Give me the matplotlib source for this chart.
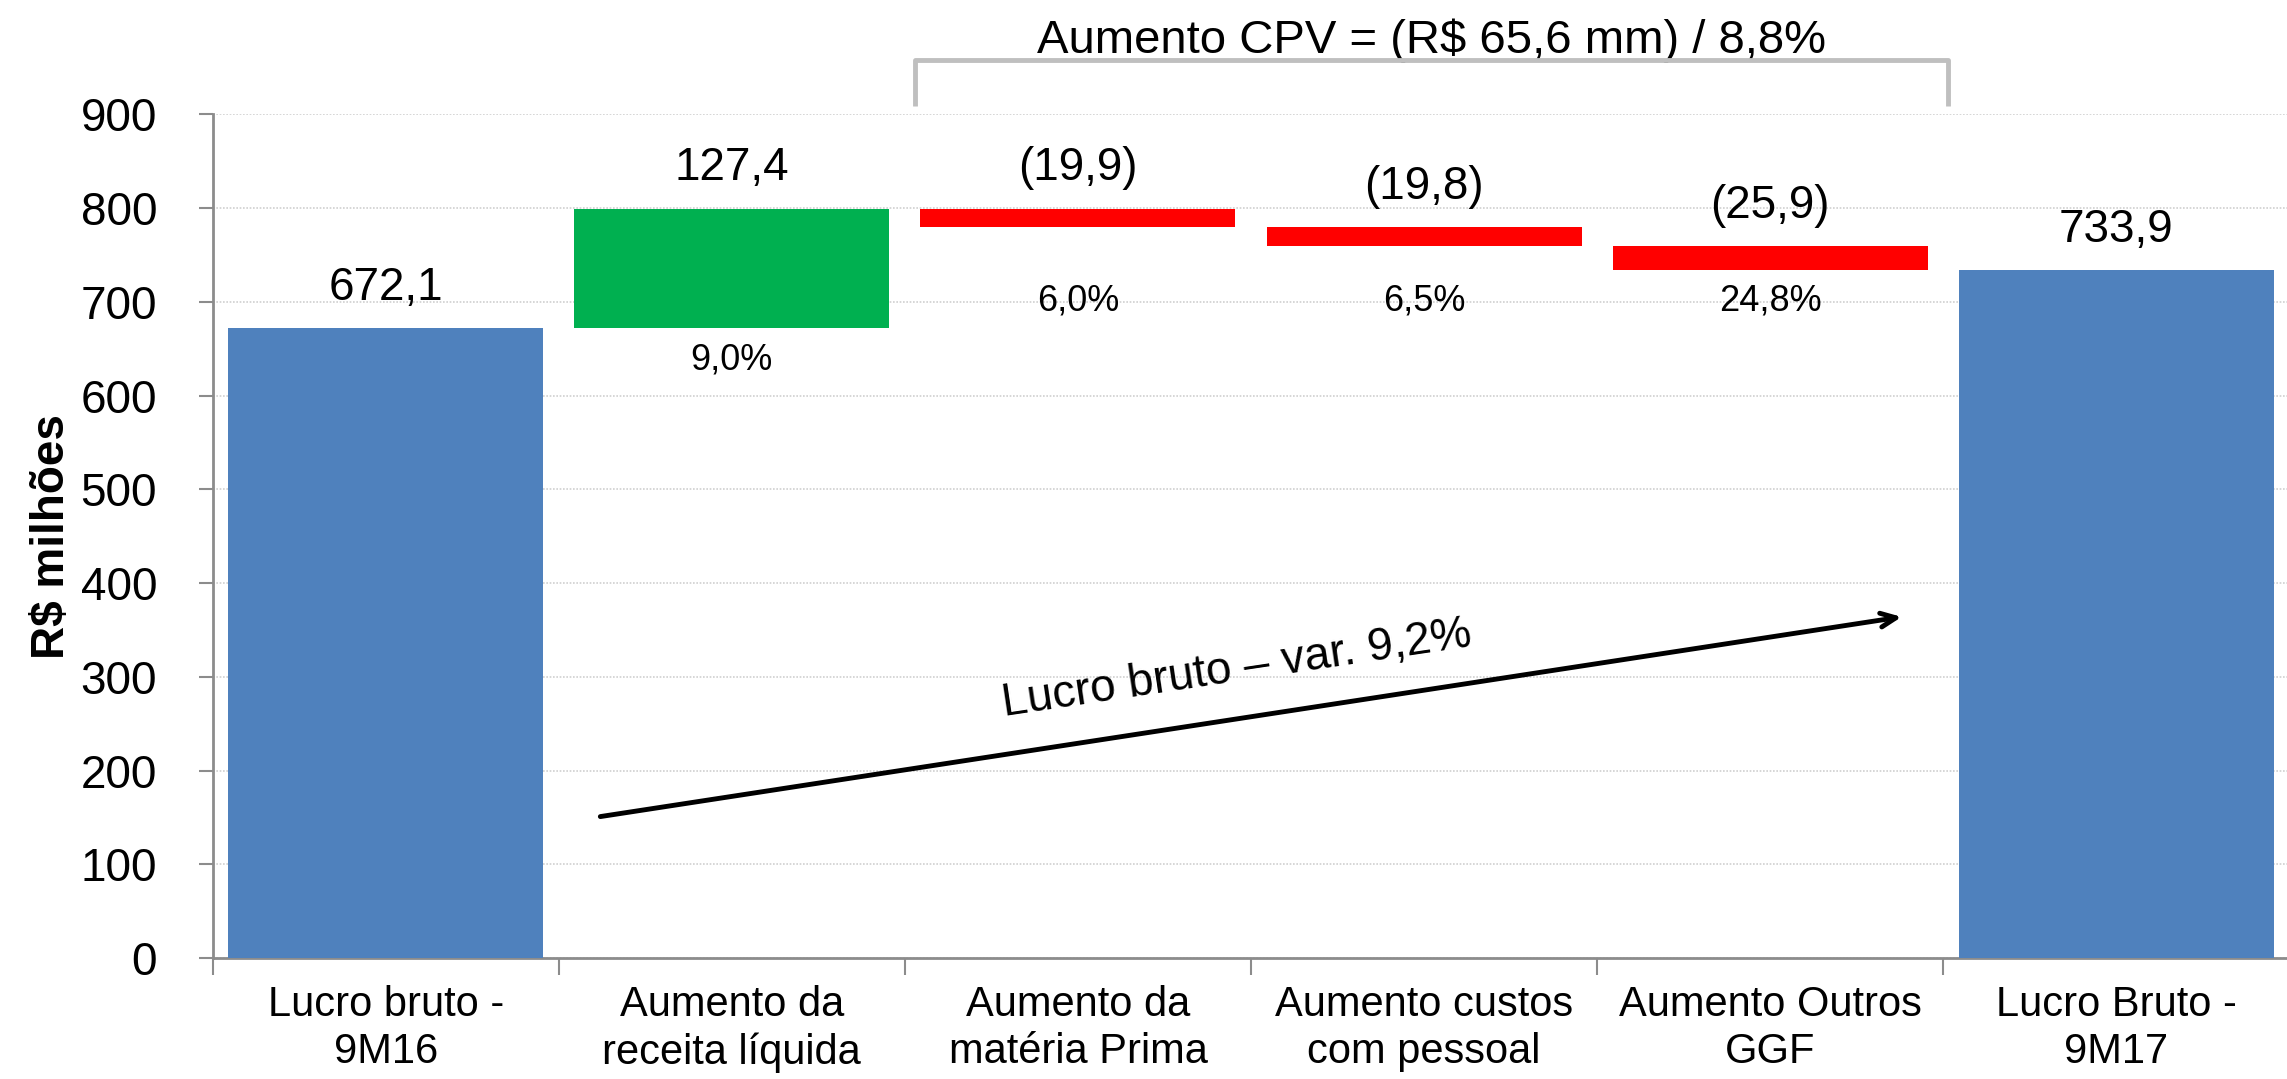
import matplotlib
matplotlib.use("Agg")
import matplotlib.pyplot as plt
import numpy as np

plt.rcParams["font.family"] = ["Liberation Sans", "DejaVu Sans"]

categories = ["Lucro bruto -\n9M16", "Aumento da\nreceita líquida", "Aumento da\nmatéria Prima",
              "Aumento custos\ncom pessoal", "Aumento Outros\nGGF", "Lucro Bruto -\n9M17"]
start_value = 672.1
changes = [127.4, -19.9, -19.8, -25.9]
end_value = 733.9
value_labels = ["672,1", "127,4", "(19,9)", "(19,8)", "(25,9)", "733,9"]
pct_labels = ["9,0%", "6,0%", "6,5%", "24,8%"]
bracket_text = "Aumento CPV = (R$ 65,6 mm) / 8,8%"
arrow_text = "Lucro bruto – var. 9,2%"

BLUE = "#4F81BD"
GREEN = "#00B050"
RED = "#FF0000"
GREY = "#8C8C8C"

# waterfall geometry
bottoms, heights, colors = [0], [start_value], [BLUE]
level = start_value
for c in changes:
    if c >= 0:
        bottoms.append(level); heights.append(c); colors.append(GREEN)
    else:
        bottoms.append(level + c); heights.append(-c); colors.append(RED)
    level += c
bottoms.append(0); heights.append(end_value); colors.append(BLUE)
tops = [b + h for b, h in zip(bottoms, heights)]

fig = plt.figure(figsize=(22.87, 10.79), dpi=100)
ax = fig.add_axes([0.093, 0.112, 0.908, 0.782])
x = np.arange(len(categories))
ax.bar(x, heights, bottom=bottoms, color=colors, width=0.91, zorder=3)

ax.set_xlim(-0.5, len(categories) - 0.5)
ax.set_ylim(0, 900)
ax.set_yticks(np.arange(0, 901, 100))
ax.yaxis.grid(True, color="#D0D0D0", linestyle=(0, (1, 1)), linewidth=1.2, zorder=0)
ax.set_axisbelow(True)

for s in ["top", "right"]:
    ax.spines[s].set_visible(False)
for s in ["left", "bottom"]:
    ax.spines[s].set_color(GREY)
    ax.spines[s].set_linewidth(2)

ax.set_xticks(x)
ax.set_xticklabels(categories, fontsize=30, linespacing=1.25)
ax.tick_params(axis="x", length=0, pad=19)
ax.set_xticks(np.arange(-0.5, len(categories), 1.0), minor=True)
ax.tick_params(axis="x", which="minor", length=12, width=1.5, color=GREY, direction="out")
ax.tick_params(axis="y", labelsize=33, length=10, width=1.5, color=GREY, pad=30)
ax.set_ylabel("R$ milhões", fontsize=33, fontweight="bold")
ax.yaxis.set_label_coords(-0.067, 0.5)

# value labels above bars
for xi, t, lab in zip(x, tops, value_labels):
    ax.annotate(lab, (xi, t), xytext=(0, 29), textcoords="offset points",
                ha="center", va="center", fontsize=33)

# percentage labels
for i, lab in enumerate(pct_labels):
    xi = i + 1
    if changes[i] >= 0:
        ax.annotate(lab, (xi, bottoms[xi]), xytext=(0, -23), textcoords="offset points",
                    ha="center", va="center", fontsize=26)
    else:
        ax.text(xi, 701, lab, ha="center", va="center", fontsize=26)

# bracket over cost bars
bx0, bx1, by0, by1 = 1.53, 4.515, 909, 958
ax.plot([bx0, bx0, bx1, bx1], [by0, by1, by1, by0], color="#BFBFBF", lw=3.5,
        clip_on=False, solid_joinstyle="round", solid_capstyle="butt", zorder=4)
ax.text((bx0 + bx1) / 2, 978, bracket_text, ha="center", va="center", fontsize=34,
        clip_on=False)

# overall arrow
ax.annotate("", xy=(4.38, 364), xytext=(0.62, 151),
            arrowprops=dict(arrowstyle="->,head_length=1.1,head_width=0.5", lw=3.5,
                            color="black", shrinkA=0, shrinkB=0), zorder=5)
ax.text(2.46, 308, arrow_text, ha="center", va="center", fontsize=33, rotation=8.5,
        rotation_mode="anchor")

fig.savefig("out.png", dpi=100)
